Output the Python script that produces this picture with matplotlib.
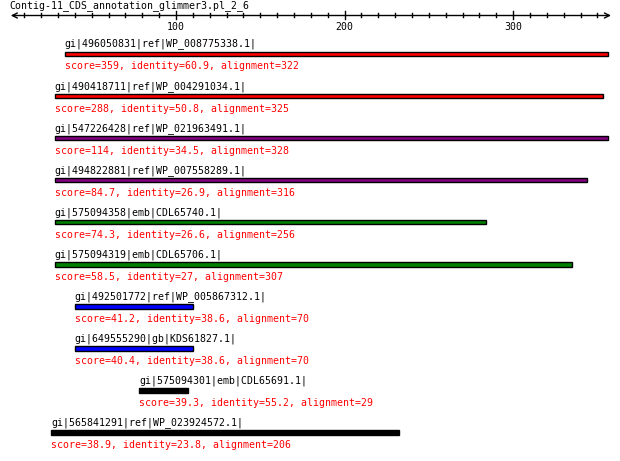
import matplotlib
matplotlib.use("Agg")
import matplotlib.pyplot as plt

title = "Contig-11_CDS_annotation_glimmer3.pl_2_6"
query_len = 357

hits = ["gi|496050831|ref|WP_008775338.1|",
        "gi|490418711|ref|WP_004291034.1|",
        "gi|547226428|ref|WP_021963491.1|",
        "gi|494822881|ref|WP_007558289.1|",
        "gi|575094358|emb|CDL65740.1|",
        "gi|575094319|emb|CDL65706.1|",
        "gi|492501772|ref|WP_005867312.1|",
        "gi|649555290|gb|KDS61827.1|",
        "gi|575094301|emb|CDL65691.1|",
        "gi|565841291|ref|WP_023924572.1|"]
scores = ["359", "288", "114", "84.7", "74.3", "58.5", "41.2", "40.4", "39.3", "38.9"]
identity = ["60.9", "50.8", "34.5", "26.9", "26.6", "27", "38.6", "38.6", "55.2", "23.8"]
starts = [34, 28, 28, 28, 28, 28, 40, 40, 78, 26]
alignment = [322, 325, 328, 316, 256, 307, 70, 70, 29, 206]
colors = ["#ff0000", "#ff0000", "#800080", "#800080", "#008000",
          "#008000", "#0000ff", "#0000ff", "#000000", "#000000"]

W, H = 620, 461
fig = plt.figure(figsize=(W / 100, H / 100), dpi=100)
ax = fig.add_axes([0, 0, 1, 1])
ax.set_axis_off()

# pixel layout -> data units
x0, sx = 7.4, 1.686       # px of position 0, px per residue
y0, sy = 54.0, 42.05      # px of first row centre, px per row
ax.set_xlim(-x0 / sx, (W - x0) / sx)
ax.set_ylim((H - y0) / sy, -y0 / sy)
px = 1.0 / sy             # one pixel in row units

font = dict(family="DejaVu Sans Mono", fontsize=7.1)

# title and ruler
ax.text((9 - x0) / sx, (0.5 - y0) / sy, title, va="top", ha="left", **font)
ry = (15.5 - y0) / sy
ax.annotate("", xy=(2, ry), xytext=(query_len + 1, ry),
            arrowprops=dict(arrowstyle="<->", lw=1, color="black",
                            mutation_scale=9, shrinkA=0, shrinkB=0))
for t in range(10, query_len, 10):
    if t % 100 == 0:
        ax.plot([t, t], [ry - 4 * px, ry + 4 * px], color="black", lw=1)
        ax.text(t, ry + 7 * px, str(t), ha="center", va="top", **font)
    else:
        ax.plot([t, t], [ry - 2 * px, ry + 2 * px], color="black", lw=1)

rows = list(range(len(hits)))
heights = [4.5 * px] * 8 + [4.8 * px] * 2
ax.barh(rows, alignment, left=starts, height=heights, color=colors,
        edgecolor="black", linewidth=1)

for i in rows:
    ax.text(starts[i], i - 4.5 * px, hits[i], ha="left", va="bottom", **font)
    ax.text(starts[i], i + 7.5 * px,
            "score=%s, identity=%s, alignment=%d" % (scores[i], identity[i], alignment[i]),
            ha="left", va="top", color="#ff0000", **font)

fig.savefig("out.png", dpi=100)
